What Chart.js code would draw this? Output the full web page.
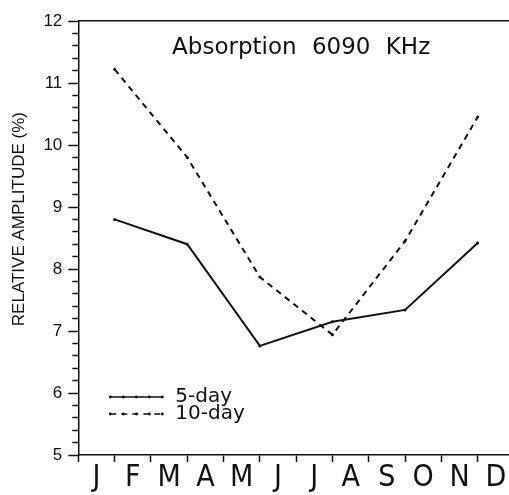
<!DOCTYPE html>
<html>
<head>
<meta charset="utf-8">
<script src="https://cdn.jsdelivr.net/npm/chart.js@4.4.1/dist/chart.umd.min.js"></script>
<style>
  html, body { margin: 0; padding: 0; background: #fff; overflow: hidden; }
  #chartContainer { width: 518px; height: 495px; }
</style>
</head>
<body>
<div id="chartContainer"><canvas id="myChart" width="518" height="495"></canvas></div>
<script>
// Month initials along the bottom axis
const months = ['J', 'F', 'M', 'A', 'M', 'J', 'J', 'A', 'S', 'O', 'N', 'D'];

// Values sit on the boundary between two months (J/F, M/A, M/J, J/A, S/O, N/D)
const periodPositions = [1, 3, 5, 7, 9, 11];

// Relative amplitude (%) for the two running means
const fiveDay = [8.80, 8.40, 6.76, 7.15, 7.34, 8.42];
const tenDay = [11.22, 9.80, 7.87, 6.94, 8.45, 10.45];

const seriesLabels = ['5-day', '10-day'];
const chartTitle = 'Absorption 6090 KHz';
const yAxisTitle = 'RELATIVE AMPLITUDE (%)';

const ink = '#111';
const ctx = document.getElementById('myChart').getContext('2d');

function isWhole(v) {
    return Math.abs(v - Math.round(v)) < 1e-6;
}

// Title drawn inside the frame, near the top
const innerTitle = {
    id: 'innerTitle',
    afterDraw(chart) {
        const { ctx, chartArea } = chart;
        ctx.save();
        ctx.font = '23px "DejaVu Sans"';
        ctx.fillStyle = ink;
        ctx.textAlign = 'center';
        ctx.textBaseline = 'alphabetic';
        ctx.wordSpacing = '8px';
        ctx.fillText(chartTitle, (chartArea.left + chartArea.right) / 2 + 5, chartArea.top + 33);
        ctx.restore();
    }
};

// Legend in the lower left corner of the plot
const innerLegend = {
    id: 'innerLegend',
    afterDraw(chart) {
        const { ctx, chartArea } = chart;
        ctx.save();
        chart.data.datasets.forEach((ds, i) => {
            const y = chartArea.bottom - 58 + i * 17;
            const x0 = chartArea.left + 32;
            const x1 = chartArea.left + 84;
            ctx.strokeStyle = ink;
            ctx.lineWidth = 1.7;
            ctx.setLineDash(ds.borderDash || []);
            ctx.beginPath();
            ctx.moveTo(x0, y);
            ctx.lineTo(x1, y);
            ctx.stroke();
            ctx.setLineDash([]);
            ctx.fillStyle = ink;
            for (let k = 0; k <= 4; k++) {
                ctx.beginPath();
                ctx.arc(x0 + k * 13, y, 1.4, 0, Math.PI * 2);
                ctx.fill();
            }
            ctx.font = '20px "DejaVu Sans"';
            ctx.textBaseline = 'middle';
            ctx.textAlign = 'left';
            ctx.fillText(ds.label, chartArea.left + 97, y);
        });
        ctx.restore();
    }
};

function toPoints(values) {
    return periodPositions.map((x, i) => ({ x: x, y: values[i] }));
}

new Chart(ctx, {
    type: 'line',
    data: {
        datasets: [
            {
                label: seriesLabels[0],
                data: toPoints(fiveDay),
                xAxisID: 'xData',
                borderColor: ink,
                borderWidth: 2,
                pointRadius: 1.5,
                pointBorderWidth: 0,
                pointBackgroundColor: ink,
                tension: 0
            },
            {
                label: seriesLabels[1],
                data: toPoints(tenDay),
                xAxisID: 'xData',
                borderColor: ink,
                borderWidth: 2,
                borderDash: [6, 5],
                pointRadius: 1.5,
                pointBorderWidth: 0,
                pointBackgroundColor: ink,
                tension: 0
            }
        ]
    },
    options: {
        responsive: false,
        animation: false,
        layout: { padding: { left: 9, top: 13, right: 2.5, bottom: 1 } },
        plugins: {
            legend: { display: false },
            title: { display: false },
            tooltip: { enabled: false }
        },
        scales: {
            x: {
                type: 'category',
                labels: months,
                position: 'bottom',
                offset: true,
                grid: { offset: true, drawOnChartArea: false, tickLength: 7, tickColor: ink, tickWidth: 1.5 },
                border: { color: ink, width: 1.5 },
                ticks: {
                    color: ink,
                    padding: 1,
                    autoSkip: false,
                    maxRotation: 0,
                    font: { family: '"Liberation Sans Narrow", "DejaVu Sans Condensed", sans-serif', size: 30, lineHeight: 1 }
                }
            },
            xData: { type: 'linear', display: false, min: 0, max: 12 },
            xTop: {
                type: 'linear',
                position: 'top',
                grid: { display: false },
                ticks: { display: false },
                border: { color: ink, width: 1.5 }
            },
            y: {
                min: 5,
                max: 12,
                ticks: {
                    stepSize: 0.2,
                    autoSkip: false,
                    padding: 6,
                    color: ink,
                    font: { family: '"Liberation Sans", sans-serif', size: 17 },
                    callback: (v) => isWhole(v) ? Math.round(v) : ''
                },
                grid: {
                    drawOnChartArea: false,
                    tickLength: 10,
                    tickColor: ink,
                    tickWidth: 1.5,
                    // minor ticks only cover the inner part of the tick length
                    tickBorderDash: (c) => (c.tick && isWhole(c.tick.value)) ? [] : [0, 4, 6, 0]
                },
                border: { color: ink, width: 1.5 },
                title: {
                    display: true,
                    // leading blanks lift the rotated title a little above the axis middle
                    text: '        ' + yAxisTitle,
                    color: ink,
                    font: { family: '"Liberation Sans", sans-serif', size: 17 },
                    padding: { top: 0, bottom: 8 }
                }
            }
        }
    },
    plugins: [innerTitle, innerLegend]
});
</script>
</body>
</html>
